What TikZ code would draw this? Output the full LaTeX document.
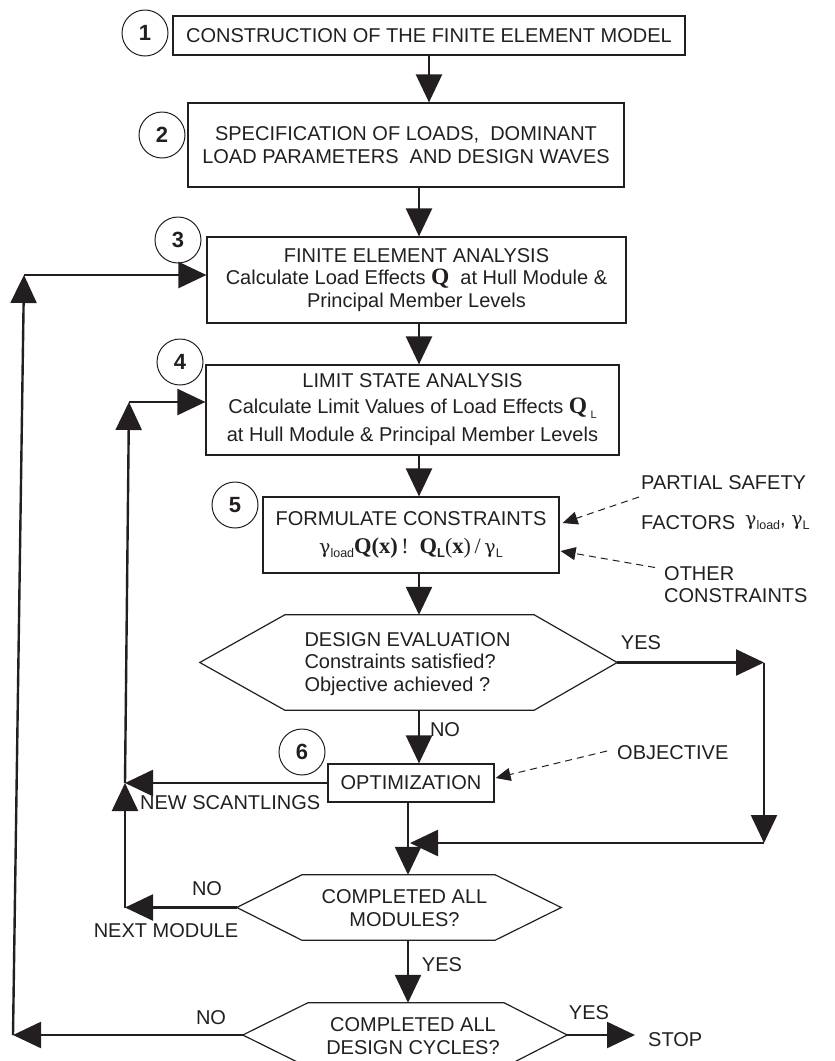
\documentclass[tikz,border=0pt]{standalone}
\usepackage{fontspec}
\setmainfont{Liberation Sans}
\newfontfamily\tmsfont{Liberation Serif}
\newfontfamily\grkfont{DejaVu Serif}
\usetikzlibrary{arrows.meta}
\definecolor{ink}{RGB}{35,31,32}
\newcommand{\gsub}[1]{{\grkfont\fontsize{19}{19}\selectfont γ}\raisebox{-4pt}{\fontsize{12.5}{12.5}\selectfont #1}}
\newcommand{\bQ}{{\tmsfont\bfseries\fontsize{23.5}{23.5}\selectfont Q}}
\newcommand{\bX}[1]{{\tmsfont\bfseries\fontsize{22.5}{22.5}\selectfont #1}}

\begin{document}
\begin{tikzpicture}[x=1pt,y=-1pt,color=ink,font=\fontsize{20}{22.5}\selectfont,
	stepbox/.style={draw,line width=1.2pt,inner sep=0pt,align=center},
	numcirc/.style={circle,draw,line width=1pt,minimum size=46pt,inner sep=0pt,font=\bfseries\fontsize{22}{22}\selectfont},
	hexcore/.style={inner sep=0pt},
	hexline/.style={line width=1.2pt,line join=miter},
	lbl/.style={inner sep=0pt,align=left},
	flow/.style={line width=2.4pt,-{Triangle[length=28pt,width=26pt]}},
	hint/.style={line width=1pt,dash pattern=on 7pt off 5pt,-{Triangle[length=15pt,width=13pt]}}
	]
	\useasboundingbox (0,0) rectangle (835,1061);

	\node[numcirc] (n1) at (145,33) {1};
	\node[numcirc] (n2) at (162,135) {2};
	\node[numcirc] (n3) at (178,240) {3};
	\node[numcirc] (n4) at (180,362) {4};
	\node[numcirc] (n5) at (235,505) {5};
	\node[numcirc] (n6) at (302,752) {6};

	\node[stepbox,minimum width=512pt,minimum height=39pt] (b1) at (429,35.5) {CONSTRUCTION OF THE FINITE ELEMENT MODEL};
	\node[stepbox,minimum width=436pt,minimum height=84pt] (b2) at (406,145) {SPECIFICATION OF LOADS,\ \ DOMINANT\\LOAD PARAMETERS\ \ AND DESIGN WAVES};
	\node[stepbox,minimum width=419pt,minimum height=86pt] (b3) at (416.5,280) {FINITE ELEMENT ANALYSIS\\Calculate Load Effects \bQ\ \ at Hull Module \&\\Principal Member Levels};
	\node[stepbox,minimum width=413pt,minimum height=90pt] (b4) at (412.5,410) {LIMIT STATE ANALYSIS\\[3pt]Calculate Limit Values of Load Effects \bQ\,\raisebox{-5pt}{\fontsize{11}{11}\selectfont L}\\[6pt]at Hull Module \& Principal Member Levels};
	\node[stepbox,minimum width=296pt,minimum height=76pt] (b5) at (411,535) {FORMULATE CONSTRAINTS\\[5pt]\gsub{load}\bX{Q}\bX{(x)}\,{\tmsfont\fontsize{22}{22}\selectfont !}\ \ \bX{Q}\raisebox{-4pt}{\bfseries\fontsize{13}{13}\selectfont L}{\tmsfont\fontsize{22}{22}\selectfont(}\bX{x}{\tmsfont\fontsize{22}{22}\selectfont)\,/\,}\gsub{L}};
	\node[stepbox,minimum width=166pt,minimum height=38pt] (opt) at (411,783) {OPTIMIZATION};

	\node[hexcore,minimum width=249pt,minimum height=95pt] (eval) at (409.5,662.5) {};
	\draw[hexline] (eval.north west) -- (eval.north east) -- ([xshift=83pt]eval.east) coordinate (eval-r) -- (eval.south east) -- (eval.south west) -- ([xshift=-85pt]eval.west) coordinate (eval-l) -- cycle;
	\node[lbl] (evalt) at (407.5,664) {DESIGN EVALUATION\\Constraints satisfied?\\Objective achieved ?};
	\node[hexcore,minimum width=193pt,minimum height=65pt] (modq) at (398.5,907.5) {};
	\draw[hexline] (modq.north west) -- (modq.north east) -- ([xshift=66pt]modq.east) coordinate (modq-r) -- (modq.south east) -- (modq.south west) -- ([xshift=-65pt]modq.west) coordinate (modq-l) -- cycle;
	\node[lbl,align=center] (modqt) at (404.5,908) {COMPLETED ALL\\MODULES?};
	\node[hexcore,minimum width=196pt,minimum height=64pt] (cyc) at (406,1035) {};
	\draw[hexline] (cyc.north west) -- (cyc.north east) -- ([xshift=63pt]cyc.east) coordinate (cyc-r) -- (cyc.south east) -- (cyc.south west) -- ([xshift=-65pt]cyc.west) coordinate (cyc-l) -- cycle;
	\node[lbl,align=center] (cyct) at (413,1036) {COMPLETED ALL\\DESIGN CYCLES?};

	\node[lbl,anchor=west] (psf) at (641,483) {PARTIAL SAFETY};
	\node[lbl,anchor=west] (fac) at (641,523) {FACTORS};
	\node[lbl,anchor=west] (gam) at (745,523) {\gsub{load}, \gsub{L}};
	\node[lbl,anchor=west] (othc) at (664,584.5) {OTHER\\CONSTRAINTS};
	\node[lbl,anchor=west] (obj) at (617,753) {OBJECTIVE};
	\node[lbl,anchor=west] (stop) at (648,1040) {STOP};
	\node[lbl] (yes1) at (641,643) {YES};
	\node[lbl] (no1) at (445,730) {NO};
	\node[lbl,anchor=west] (newsc) at (140,803) {NEW SCANTLINGS};
	\node[lbl] (no2) at (207,889) {NO};
	\node[lbl] (nextm) at (166,931) {NEXT MODULE};
	\node[lbl] (yes2) at (442,965) {YES};
	\node[lbl] (no3) at (211,1018) {NO};
	\node[lbl] (yes3) at (589,1013) {YES};

	\coordinate (col) at (419,0);
	\coordinate (colB) at (408,0);
	\coordinate (ycorner) at (764,662.5);
	\coordinate (mcorner) at (764,843);
	\coordinate (mjoin) at (410,843);
	\coordinate (ns) at (125,783);
	\coordinate (nm) at (125,907.5);
	\coordinate (lim) at (129,402);
	\coordinate (oc) at (13,1035);
	\coordinate (ot) at (24,275);

	\draw[flow] (b1.south) -- (b1.south |- b2.north);
	\draw[flow] (b2.south -| col) -- (b3.north -| col);
	\draw[flow] (b3.south -| col) -- (b4.north -| col);
	\draw[flow] (b4.south -| col) -- (b5.north -| col);
	\draw[flow] (b5.south -| col) -- (eval.north -| col);
	\draw[flow] (eval.south -| col) -- (opt.north -| col);
	\draw[flow] (opt.south -| colB) -- (modq.north -| colB);
	\draw[flow] (modq.south -| colB) -- (cyc.north -| colB);
	\draw[flow] (eval-r) -- (ycorner);
	\draw[flow] (ycorner) -- (mcorner);
	\draw[flow] (mcorner) -- (mjoin);
	\draw[flow] (opt.west) -- (ns);
	\draw[flow] (modq-l) -- (nm);
	\draw[flow] (nm) -- (ns);
	\draw[flow] (ns) -- (lim);
	\draw[flow] (lim) -- (lim -| b4.west);
	\draw[flow] (cyc-l) -- (oc);
	\draw[flow] (oc) -- (ot);
	\draw[flow] (ot) -- (ot -| b3.west);
	\draw[flow,shorten >=13pt] (cyc-r) -- (cyc-r -| stop.west);

	\draw[hint] ([xshift=-2pt,yshift=-14pt]psf.west) -- ([xshift=3pt,yshift=12pt]b5.east);
	\draw[hint] ([xshift=-9pt,yshift=17pt]othc.west) -- ([xshift=1pt,yshift=-16pt]b5.east);
	\draw[hint] ([xshift=-10pt,yshift=2pt]obj.west) -- ([xshift=1pt,yshift=5pt]opt.east);
\end{tikzpicture}
\end{document}
